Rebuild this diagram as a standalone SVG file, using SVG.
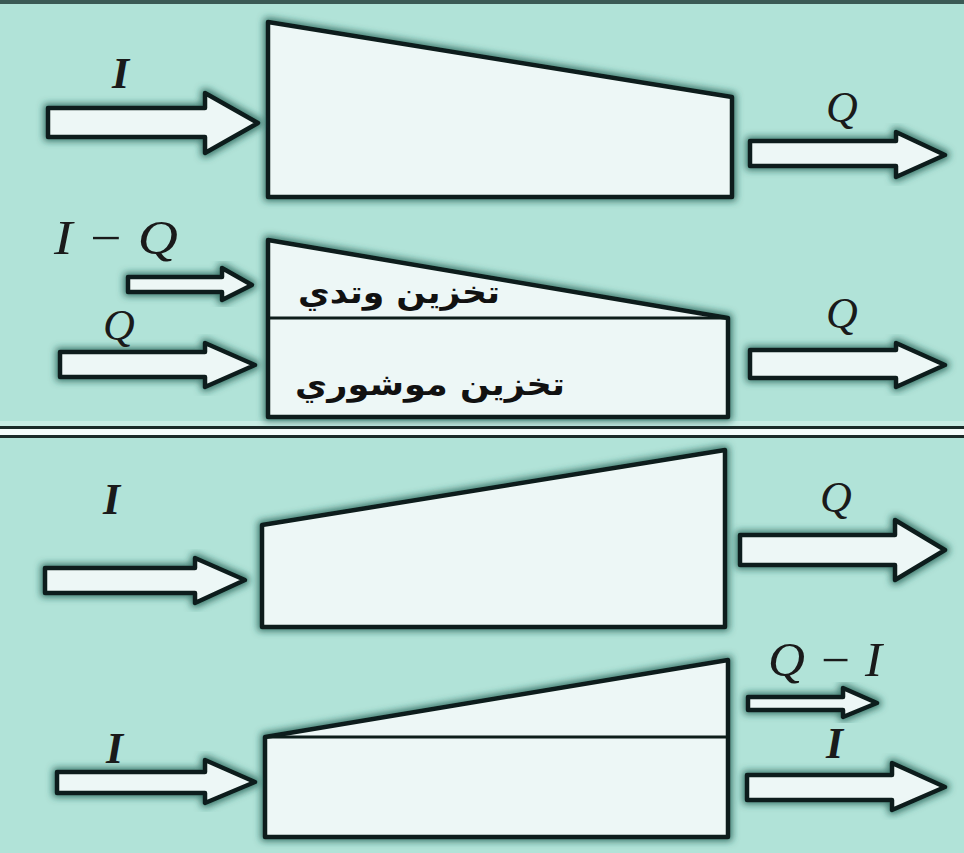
<svg xmlns="http://www.w3.org/2000/svg" width="964" height="853" viewBox="0 0 964 853">
<defs>
<filter id="glow" x="-10%" y="-20%" width="120%" height="140%">
<feMorphology in="SourceAlpha" operator="dilate" radius="2" result="d"/>
<feGaussianBlur in="d" stdDeviation="3.5" result="b"/>
<feFlood flood-color="#1d5a4f" flood-opacity="0.8"/>
<feComposite in2="b" operator="in" result="s"/>
<feMerge><feMergeNode in="s"/><feMergeNode in="SourceGraphic"/></feMerge>
</filter>
</defs>
<style>
.shape{fill:#edf7f6;stroke:#0d1d1a;stroke-width:4.5;stroke-linejoin:round;filter:url(#glow)}
.arrow{fill:#edf7f6;stroke:#0d1d1a;stroke-width:4.5;stroke-linejoin:round;filter:url(#glow)}
.div{stroke:#0d1d1a;stroke-width:3;fill:none}
.lbl{font-family:"Liberation Serif",serif;font-style:italic;font-size:44px;fill:#1a1a1a}
.lc{font-size:48px}
.lb{font-weight:bold}
.ar{font-family:"DejaVu Sans",sans-serif;font-weight:bold;font-size:31px;fill:#111}
</style>
<rect x="0" y="0" width="964" height="853" fill="#b1e3d8"/>
<rect x="0" y="0" width="964" height="4" fill="#3b5a55"/>
<rect x="0" y="421" width="964" height="5" fill="#c8ece4"/>
<rect x="0" y="426" width="964" height="3" fill="#1a2a28"/>
<rect x="0" y="429" width="964" height="6" fill="#f4fbfa"/>
<rect x="0" y="435" width="964" height="3" fill="#1a2a28"/>

<g id="panel1">
<polygon class="shape" points="268,22 732,97 732,197 268,197"/>
</g>
<g id="panel2">
<polygon class="shape" points="268,240 728,318 728,417 268,417"/>
<line class="div" x1="268" y1="318" x2="728" y2="318"/>
<text class="ar" x="399" y="303" text-anchor="middle" direction="rtl" textLength="202" lengthAdjust="spacingAndGlyphs">تخزين وتدي</text>
<text class="ar" x="430" y="395" text-anchor="middle" direction="rtl" textLength="270" lengthAdjust="spacingAndGlyphs">تخزين موشوري</text>
</g>
<g id="panel3">
<polygon class="shape" points="262,525 725,450 725,627 262,627"/>
</g>
<g id="panel4">
<polygon class="shape" points="265,737 728,660 728,837 265,837"/>
<line class="div" x1="265" y1="737" x2="728" y2="737"/>
</g>

<g id="connectors">
<polygon class="arrow" points="48,108 205,108 205,93 258,123 205,153 205,137 48,137"/>
<polygon class="arrow" points="750,141 896,141 896,132 945,155 896,177 896,166 750,166"/>
<polygon class="arrow" points="128,277 222,277 222,268 252,285 222,300 222,292 128,292"/>
<polygon class="arrow" points="60,352 205,352 205,343 255,365 205,387 205,377 60,377"/>
<polygon class="arrow" points="750,350 896,350 896,343 945,365 896,387 896,378 750,378"/>
<polygon class="arrow" points="45,568 195,568 195,558 245,580 195,603 195,593 45,593"/>
<polygon class="arrow" points="740,535 895,535 895,520 945,550 895,580 895,565 740,565"/>
<polygon class="arrow" points="57,772 205,772 205,760 255,782 205,803 205,793 57,793"/>
<polygon class="arrow" points="748,697 843,697 843,688 877,703 843,717 843,710 748,710"/>
<polygon class="arrow" points="747,775 892,775 892,763 945,787 892,810 892,800 747,800"/>
</g>

<g id="labels">
<text class="lbl lb" x="112" y="88">I</text>
<text class="lbl" x="826" y="122">Q</text>
<text class="lbl lc" x="54" y="254" textLength="124" lengthAdjust="spacingAndGlyphs">I − Q</text>
<text class="lbl" x="103" y="340">Q</text>
<text class="lbl" x="826" y="328">Q</text>
<text class="lbl lb" x="103" y="514">I</text>
<text class="lbl" x="820" y="512">Q</text>
<text class="lbl lb" x="106" y="763">I</text>
<text class="lbl lc" x="768" y="676" textLength="114" lengthAdjust="spacingAndGlyphs">Q − I</text>
<text class="lbl lb" x="826" y="758">I</text>
</g>
</svg>
